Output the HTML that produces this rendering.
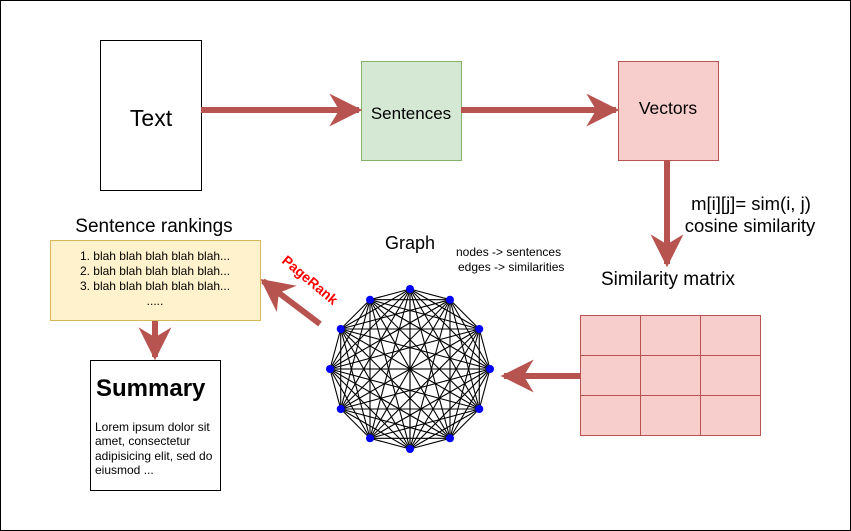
<!DOCTYPE html>
<html><head><meta charset="utf-8"><style>
body{margin:0;background:#fff}
svg{display:block;font-family:"Liberation Sans",sans-serif}
</style></head><body>
<svg id="s" width="851" height="531" viewBox="0 0 851 531" xmlns="http://www.w3.org/2000/svg">
<defs>
<marker id="a" viewBox="0 0 10 10" refX="9" refY="5" markerWidth="5.5" markerHeight="6" orient="auto" markerUnits="strokeWidth">
<path d="M0,0 L10,5 L0,10 L3,5 Z" fill="#b85450"/></marker>
</defs>
<rect x="0.5" y="0.5" width="850" height="530" fill="#fff" stroke="#000"/>
<rect x="100.5" y="40.5" width="101" height="150" fill="#fff" stroke="#000"/>
<text x="151" y="126" font-size="23" text-anchor="middle">Text</text>
<rect x="361.5" y="61.5" width="100" height="99" fill="#d5e8d4" stroke="#82b366"/>
<text x="411" y="119" font-size="17" text-anchor="middle">Sentences</text>
<rect x="618.5" y="61.5" width="100" height="99" fill="#f8cecc" stroke="#b85450"/>
<text x="668" y="114" font-size="17.5" text-anchor="middle">Vectors</text>
<g stroke="#b85450" stroke-width="6" fill="none">
<line x1="201" y1="110" x2="359" y2="110" marker-end="url(#a)"/>
<line x1="461" y1="110" x2="616" y2="110" marker-end="url(#a)"/>
<line x1="667" y1="160" x2="667" y2="264" marker-end="url(#a)"/>
<line x1="580" y1="376" x2="504" y2="376" marker-end="url(#a)"/>
<line x1="320" y1="324" x2="263" y2="281" marker-end="url(#a)"/>
<line x1="155" y1="320" x2="155" y2="357" marker-end="url(#a)"/>
</g>
<text x="751" y="210" font-size="18.5" text-anchor="middle">m[i][j]= sim(i, j)</text>
<text x="750" y="232" font-size="18.5" text-anchor="middle">cosine similarity</text>
<text x="668" y="285" font-size="19" text-anchor="middle">Similarity matrix</text>
<g fill="#f8cecc" stroke="#b85450">
<rect x="580.5" y="315.5" width="60" height="40"/><rect x="640.5" y="315.5" width="60" height="40"/><rect x="700.5" y="315.5" width="60" height="40"/>
<rect x="580.5" y="355.5" width="60" height="40"/><rect x="640.5" y="355.5" width="60" height="40"/><rect x="700.5" y="355.5" width="60" height="40"/>
<rect x="580.5" y="395.5" width="60" height="40"/><rect x="640.5" y="395.5" width="60" height="40"/><rect x="700.5" y="395.5" width="60" height="40"/>
</g>
<text x="410" y="249" font-size="18" text-anchor="middle">Graph</text>
<text x="456" y="256" font-size="12">nodes -&gt; sentences</text>
<text x="458" y="271" font-size="12">edges -&gt; similarities</text>
<text x="0" y="0" font-size="14" font-weight="bold" fill="#ff0000" transform="translate(281,262) rotate(40)">PageRank</text>
<text x="154" y="232" font-size="19" text-anchor="middle">Sentence rankings</text>
<rect x="50.5" y="240.5" width="210" height="80" fill="#fff2cc" stroke="#d6b656"/>
<g font-size="12" text-anchor="middle">
<text x="155" y="260">1. blah blah blah blah blah...</text>
<text x="155" y="275">2. blah blah blah blah blah...</text>
<text x="155" y="290">3. blah blah blah blah blah...</text>
<text x="155" y="305">.....</text>
</g>
<rect x="90.5" y="360.5" width="130" height="130" fill="#fff" stroke="#000"/>
<text x="96" y="396" font-size="24" font-weight="bold">Summary</text>
<g font-size="12">
<text x="95" y="431">Lorem ipsum dolor sit</text>
<text x="95" y="445">amet, consectetur</text>
<text x="95" y="460">adipisicing elit, sed do</text>
<text x="95" y="474">eiusmod ...</text>
</g>
<g stroke="#ccc" stroke-width="1.5"><line x1="410" y1="295" x2="410" y2="443"/><line x1="336" y1="369" x2="484" y2="369"/></g>
<g id="edges" stroke="#000" stroke-width="1.1"></g>
<g id="nodes" fill="#0000ff"></g>
</svg>
<script>
var cx=410,cy=369,r=80,p=[],e=document.getElementById('edges'),n=document.getElementById('nodes'),ns='http://www.w3.org/2000/svg';
for(var k=0;k<12;k++){var t=k*Math.PI/6;p.push([cx+r*Math.sin(t),cy-r*Math.cos(t)]);}
for(var i=0;i<12;i++)for(var j=i+1;j<12;j++){var l=document.createElementNS(ns,'line');l.setAttribute('x1',p[i][0]);l.setAttribute('y1',p[i][1]);l.setAttribute('x2',p[j][0]);l.setAttribute('y2',p[j][1]);e.appendChild(l);}
for(var i=0;i<12;i++){var c=document.createElementNS(ns,'circle');c.setAttribute('cx',p[i][0]);c.setAttribute('cy',p[i][1]);c.setAttribute('r',4);n.appendChild(c);}
</script>
</body></html>
